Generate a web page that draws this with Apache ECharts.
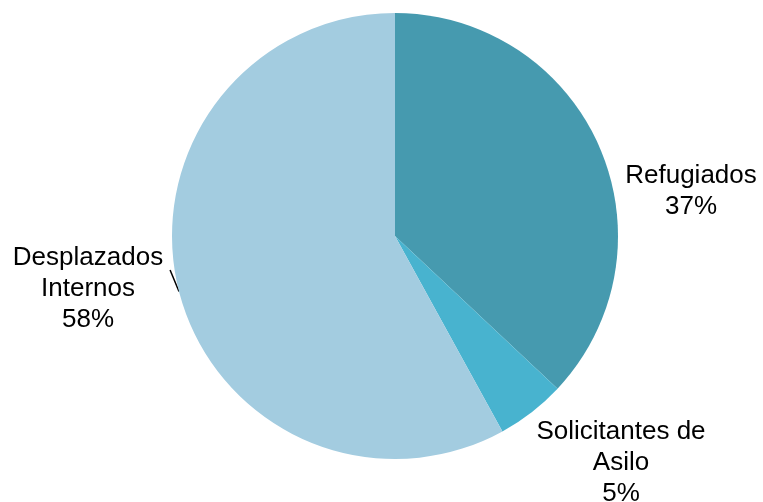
<!DOCTYPE html>
<html>
<head>
<meta charset="utf-8">
<script src="https://cdn.jsdelivr.net/npm/echarts@6/dist/echarts.min.js"></script>
<style>
html,body{margin:0;padding:0;background:#fff;}
#chart{width:763px;height:502px;}
</style>
</head>
<body>
<div id="chart"></div>
<script>
const categories = ['Refugiados', 'Solicitantes de\nAsilo', 'Desplazados\nInternos'];
const values = [37, 5, 58];
const colors = ['#469AAF', '#48B3CF', '#A3CCE0'];

const labelSpots = [
  { x: 691, y: 191 },
  { x: 621, y: 463 },
  { x: 90.5, y: 270 }
];

const chart = echarts.init(document.getElementById('chart'));
chart.setOption({
  animation: false,
  series: [{
    type: 'pie',
    center: [395, 236],
    radius: [0, 223],
    startAngle: 90,
    clockwise: true,
    data: categories.map((c, i) => ({
      name: c,
      value: values[i],
      itemStyle: { color: colors[i] },
      labelLine: { show: i === 2 },
      label: i === 2 ? {
        formatter: '{e| }\n{b}\n{d}%',
        padding: [0, 5, 0, 0],
        rich: { e: { lineHeight: 38, fontSize: 10 } }
      } : {}
    })),
    label: {
      show: true,
      position: 'outside',
      formatter: '{b}\n{d}%',
      fontFamily: 'Liberation Sans, Arial, sans-serif',
      fontSize: 26,
      lineHeight: 31,
      color: '#000',
      align: 'center'
    },
    labelLine: {
      length: 5,
      length2: 0,
      lineStyle: { color: '#000', width: 1.5 }
    },
    labelLayout: function (params) {
      const p = labelSpots[params.dataIndex];
      return { x: p.x, y: p.y, align: 'center', verticalAlign: 'middle' };
    },
    emphasis: { disabled: true }
  }]
});
</script>
</body>
</html>
